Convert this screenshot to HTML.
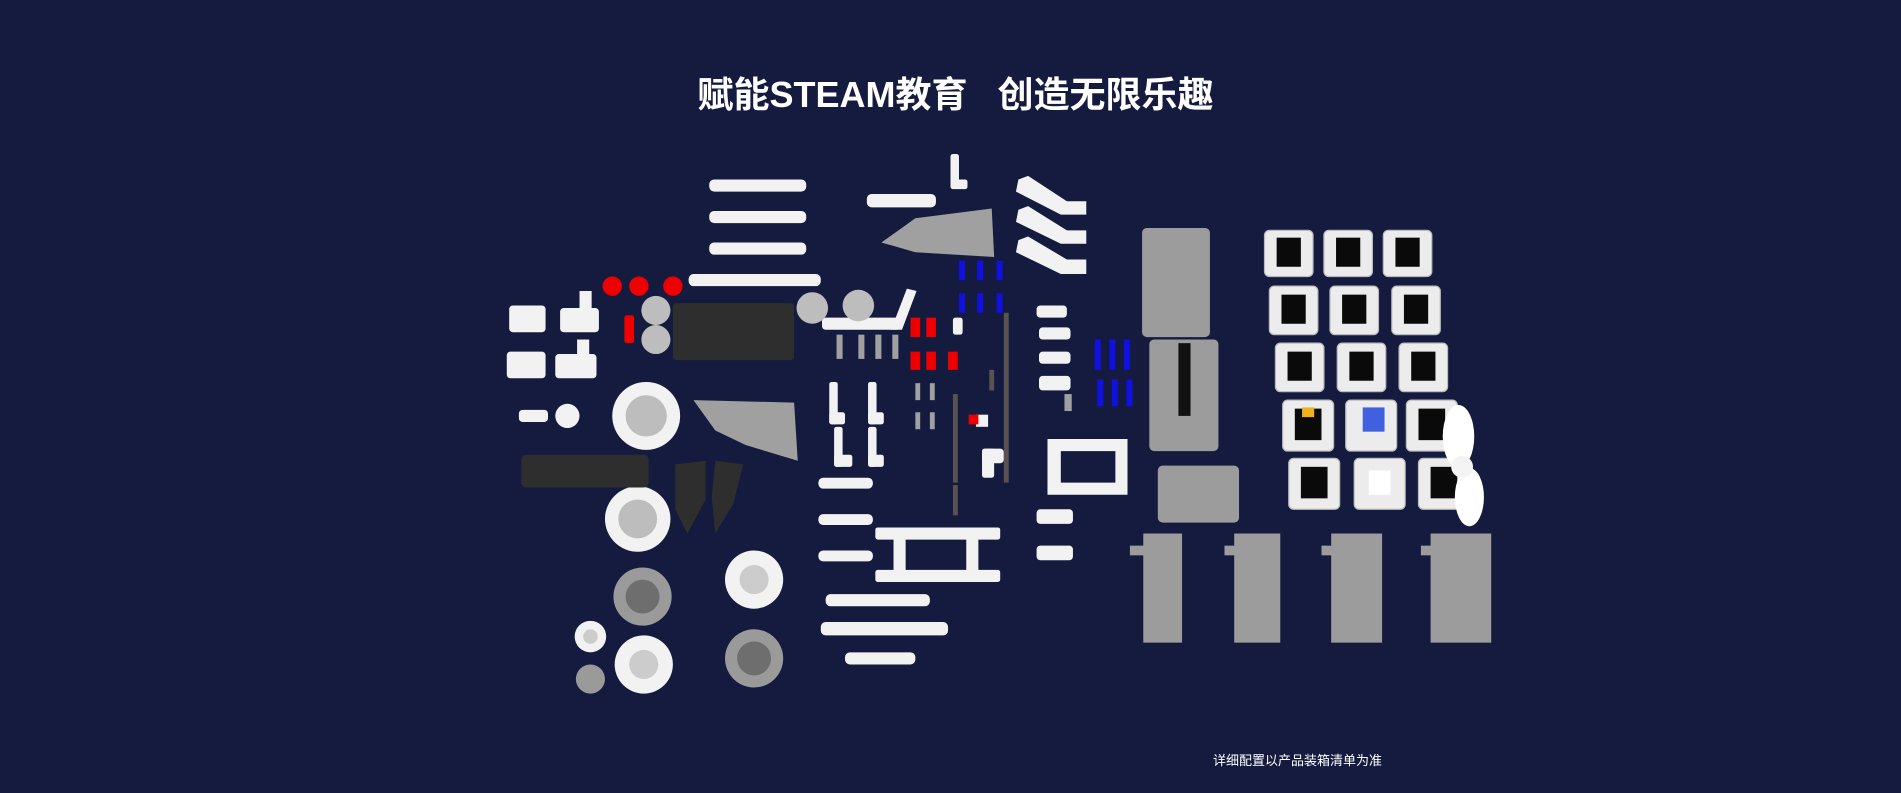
<!DOCTYPE html>
<html><head><meta charset="utf-8"><style>
html,body{margin:0;padding:0;background:#141b3f;width:1901px;height:793px;overflow:hidden;position:relative}
.t{position:absolute;left:0;width:1901px;top:66px;text-align:center;color:#fff;font:bold 36px "Liberation Sans","Noto Sans CJK SC",sans-serif;white-space:pre;letter-spacing:0;padding-left:10px;box-sizing:border-box}
.c{position:absolute;left:1213px;top:750px;color:#fff;font:13px "Liberation Sans","Noto Sans CJK SC",sans-serif}
svg{position:absolute;left:0;top:0}
</style></head><body>
<svg width="1901" height="793" viewBox="0 0 1568 654" preserveAspectRatio="none">
<g fill="#f2f2f2">
<rect x="585" y="148" width="80" height="10" rx="4"/><rect x="585" y="174" width="80" height="10" rx="4"/><rect x="585" y="200" width="80" height="10" rx="4"/><rect x="568" y="226" width="109" height="10" rx="4"/>
<rect x="420" y="252" width="30" height="22" rx="3"/><rect x="462" y="254" width="32" height="20" rx="3"/><rect x="478" y="240" width="10" height="18"/>
<rect x="418" y="290" width="32" height="22" rx="3"/><rect x="458" y="292" width="34" height="20" rx="3"/><rect x="476" y="280" width="10" height="16"/>
<rect x="428" y="338" width="24" height="10" rx="3"/><circle cx="468" cy="343" r="10"/>
<circle cx="533" cy="343" r="28"/><circle cx="526" cy="428" r="27"/>
<circle cx="622" cy="478" r="24"/><circle cx="487" cy="525" r="13"/><circle cx="531" cy="548" r="24"/>
<rect x="784" y="127" width="7" height="28" rx="2"/><rect x="784" y="148" width="14" height="8" rx="2"/>
<rect x="715" y="160" width="57" height="11" rx="4"/>
<polygon points="840,148 848,145 880,166 896,166 896,177 875,177 838,158"/>
<polygon points="840,173 848,170 880,190 896,190 896,201 875,201 838,183"/>
<polygon points="840,198 848,195 880,214 896,214 896,226 875,226 838,208"/>
<rect x="678" y="262" width="65" height="10" rx="3"/><polygon points="735,272 748,238 756,240 744,272"/>
<rect x="684" y="315" width="7" height="35" rx="2"/><rect x="684" y="340" width="13" height="10" rx="2"/>
<rect x="716" y="315" width="7" height="35" rx="2"/><rect x="716" y="340" width="13" height="10" rx="2"/>
<rect x="688" y="352" width="7" height="33" rx="2"/><rect x="688" y="375" width="15" height="10" rx="2"/>
<rect x="716" y="352" width="7" height="33" rx="2"/><rect x="716" y="375" width="13" height="10" rx="2"/>
<rect x="675" y="394" width="45" height="9" rx="4"/><rect x="675" y="424" width="45" height="9" rx="4"/><rect x="675" y="454" width="45" height="9" rx="4"/>
<rect x="722" y="435" width="103" height="10" rx="2"/><rect x="722" y="470" width="103" height="10" rx="2"/><rect x="737" y="444" width="10" height="28"/><rect x="797" y="444" width="10" height="28"/>
<rect x="681" y="490" width="86" height="10" rx="4"/><rect x="677" y="513" width="105" height="11" rx="4"/><rect x="697" y="538" width="58" height="10" rx="4"/>
<rect x="786" y="262" width="8" height="14" rx="2"/><rect x="805" y="342" width="10" height="10"/>
<rect x="810" y="370" width="18" height="12" rx="3"/><rect x="810" y="370" width="10" height="24" rx="2"/>
<rect x="855" y="252" width="25" height="10" rx="3"/><rect x="857" y="270" width="26" height="10" rx="3"/><rect x="857" y="290" width="26" height="10" rx="3"/><rect x="857" y="310" width="26" height="12" rx="3"/>
<path d="M864 362h66v46h-66zM875 372v26h45v-26z" fill-rule="evenodd"/>
<rect x="855" y="420" width="30" height="12" rx="3"/><rect x="855" y="450" width="30" height="12" rx="3"/>
</g>
<g fill="#bdbdbd"><circle cx="533" cy="343" r="17"/><circle cx="526" cy="428" r="16"/><circle cx="541" cy="256" r="12"/><circle cx="541" cy="280" r="12"/><circle cx="670" cy="254" r="13"/><circle cx="708" cy="252" r="13"/></g>
<g fill="#9a9a9a"><circle cx="530" cy="492" r="24"/><circle cx="622" cy="543" r="24"/><circle cx="487" cy="560" r="12"/></g>
<g fill="#6e6e6e"><circle cx="530" cy="492" r="14"/><circle cx="622" cy="543" r="14"/></g>
<g fill="#ccc"><circle cx="622" cy="478" r="12"/><circle cx="531" cy="548" r="12"/><circle cx="487" cy="525" r="6"/></g>
<g fill="#e00"><circle cx="505" cy="236" r="8"/><circle cx="527" cy="236" r="8"/><circle cx="555" cy="236" r="8"/><rect x="515" y="260" width="8" height="23" rx="2"/>
<rect x="751" y="262" width="8" height="16"/><rect x="764" y="262" width="8" height="16"/><rect x="751" y="290" width="8" height="15"/><rect x="764" y="290" width="8" height="15"/><rect x="782" y="290" width="8" height="15"/><rect x="799" y="342" width="8" height="8"/></g>
<g fill="#1010e0"><rect x="791" y="215" width="5" height="16"/><rect x="806" y="215" width="5" height="16"/><rect x="822" y="215" width="5" height="16"/><rect x="791" y="242" width="5" height="16"/><rect x="806" y="242" width="5" height="16"/><rect x="822" y="242" width="5" height="16"/>
<rect x="903" y="280" width="5" height="25"/><rect x="915" y="280" width="5" height="25"/><rect x="927" y="280" width="5" height="25"/><rect x="905" y="313" width="5" height="22"/><rect x="917" y="313" width="5" height="22"/><rect x="929" y="313" width="5" height="22"/></g>
<g fill="#a0a0a0"><polygon points="727,200 755,180 818,172 820,212 755,208"/><polygon points="572,330 655,332 658,380 615,367 590,355"/>
<rect x="690" y="276" width="5" height="20"/><rect x="708" y="276" width="5" height="20"/><rect x="722" y="276" width="5" height="20"/><rect x="736" y="276" width="5" height="20"/>
<rect x="755" y="316" width="4" height="14"/><rect x="767" y="316" width="4" height="14"/><rect x="755" y="340" width="4" height="14"/><rect x="767" y="340" width="4" height="14"/><rect x="878" y="325" width="6" height="14"/></g>
<g fill="#5a5252"><rect x="828" y="258" width="4" height="140"/><rect x="786" y="325" width="4" height="73"/><rect x="786" y="400" width="4" height="25"/><rect x="816" y="305" width="4" height="17"/></g>
<g fill="#2e2e2e"><rect x="555" y="250" width="100" height="47" rx="3"/><rect x="430" y="375" width="105" height="27" rx="4"/>
<polygon points="557,383 582,380 582,412 567,440 557,420"/><polygon points="590,380 613,383 605,415 590,440 587,410"/></g>
<g fill="#9c9c9c"><rect x="942" y="188" width="56" height="90" rx="4"/><rect x="948" y="280" width="57" height="92" rx="4"/><rect x="955" y="384" width="67" height="47" rx="4"/>
<rect x="943" y="440" width="32" height="90"/><rect x="1018" y="440" width="38" height="90"/><rect x="1098" y="440" width="42" height="90"/><rect x="1180" y="440" width="50" height="90"/>
<rect x="932" y="450" width="12" height="8"/><rect x="1010" y="450" width="10" height="8"/><rect x="1090" y="450" width="10" height="8"/><rect x="1172" y="450" width="10" height="8"/></g>
<rect x="972" y="283" width="10" height="60" fill="#111"/>
<g fill="#ececec" stroke="#bbb" stroke-width="1">
<rect x="1043" y="190" width="40" height="38" rx="4"/><rect x="1092" y="190" width="40" height="38" rx="4"/><rect x="1141" y="190" width="40" height="38" rx="4"/>
<rect x="1047" y="236" width="40" height="40" rx="4"/><rect x="1097" y="236" width="40" height="40" rx="4"/><rect x="1148" y="236" width="40" height="40" rx="4"/>
<rect x="1052" y="283" width="40" height="40" rx="4"/><rect x="1103" y="283" width="40" height="40" rx="4"/><rect x="1154" y="283" width="40" height="40" rx="4"/>
<rect x="1058" y="330" width="42" height="42" rx="4"/><rect x="1110" y="330" width="42" height="42" rx="4"/><rect x="1160" y="330" width="42" height="42" rx="4"/>
<rect x="1063" y="378" width="42" height="42" rx="4"/><rect x="1117" y="378" width="42" height="42" rx="4"/><rect x="1170" y="378" width="42" height="42" rx="4"/></g>
<g fill="#0a0a0a"><rect x="1053" y="196" width="20" height="24"/><rect x="1102" y="196" width="20" height="24"/><rect x="1151" y="196" width="20" height="24"/>
<rect x="1057" y="243" width="20" height="24"/><rect x="1107" y="243" width="20" height="24"/><rect x="1158" y="243" width="20" height="24"/>
<rect x="1062" y="290" width="20" height="24"/><rect x="1113" y="290" width="20" height="24"/><rect x="1164" y="290" width="20" height="24"/>
<rect x="1068" y="337" width="22" height="26"/><rect x="1170" y="337" width="22" height="26"/><rect x="1073" y="385" width="22" height="26"/><rect x="1180" y="385" width="22" height="26"/></g>
<rect x="1074" y="336" width="10" height="8" fill="#f0b020"/><rect x="1124" y="336" width="18" height="20" fill="#4060e0"/><rect x="1129" y="388" width="18" height="20" fill="#fff"/>
<ellipse cx="1203" cy="360" rx="13" ry="26" fill="#fff"/><ellipse cx="1212" cy="410" rx="12" ry="24" fill="#fff"/><circle cx="1206" cy="385" r="9" fill="#f4f4f4"/>
</svg>
<div class="t">赋能STEAM教育   创造无限乐趣</div>
<div class="c">详细配置以产品装箱清单为准</div>
</body></html>
